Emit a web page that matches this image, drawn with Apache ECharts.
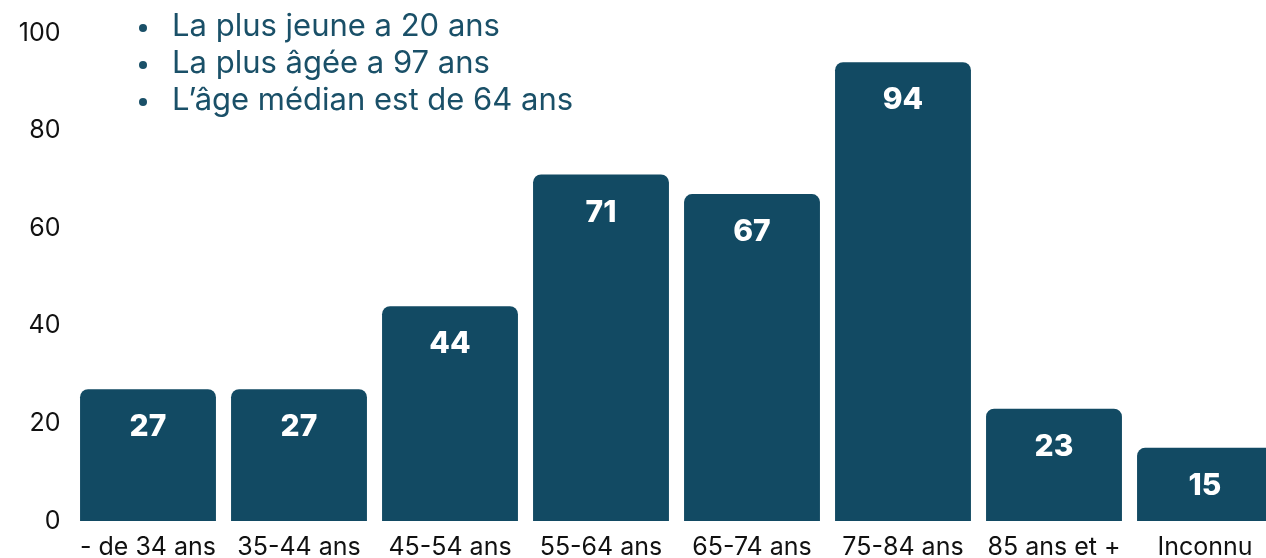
<!DOCTYPE html>
<html><head><meta charset="utf-8">
<script src="https://cdn.jsdelivr.net/npm/echarts@6/dist/echarts.min.js"></script>
<style>html,body{margin:0;padding:0;background:#fff}#c{width:1266px;height:558px}</style>
</head><body><div id="c"></div>
<script>
const categories = ['- de 34 ans','35-44 ans','45-54 ans','55-64 ans','65-74 ans','75-84 ans','85 ans et +','Inconnu'];
const values = [27, 27, 44, 71, 67, 94, 23, 15];
const notes = ['La plus jeune a 20 ans','La plus âgée a 97 ans','L\u2019âge médian est de 64 ans'];
const yTicks = [0, 20, 40, 60, 80, 100];

const barColor = '#124a63';
const noteColor = '#1a5068';
const font = 'Inter, "Noto Sans", sans-serif';

const chart = echarts.init(document.getElementById('c'), null, {renderer:'canvas'});
const graphics = [];
notes.forEach((t, i) => {
  graphics.push({type:'circle', left: 139, top: 24 + i*37, shape:{r:4}, style:{fill: noteColor}});
  graphics.push({type:'text', left: 172, top: 11 + i*37, style:{text: t, fill: noteColor, font: '400 31px ' + font}});
});
chart.setOption({
  animation:false,
  grid:{left:72.5, right:-14.5, top:33, bottom:37, containLabel:false, outerBoundsMode:'none'},
  xAxis:{type:'category', data:categories,
    axisLine:{show:false}, axisTick:{show:false},
    axisLabel:{interval:0, color:'#111', fontSize:25, fontFamily:font, margin:14}},
  yAxis:{type:'value', min:yTicks[0], max:yTicks[yTicks.length-1], interval:20,
    splitLine:{show:false}, axisLine:{show:false}, axisTick:{show:false},
    axisLabel:{color:'#111', fontSize:25, fontFamily:font, margin:12}},
  series:[{type:'bar', data:values, barCategoryGap:'10%',
    itemStyle:{color:barColor, borderRadius:[8,8,0,0]},
    label:{show:true, position:'insideTop', distance:23, color:'#fff', fontSize:30, fontWeight:800, fontFamily:font}}],
  graphic: graphics
});
</script></body></html>
